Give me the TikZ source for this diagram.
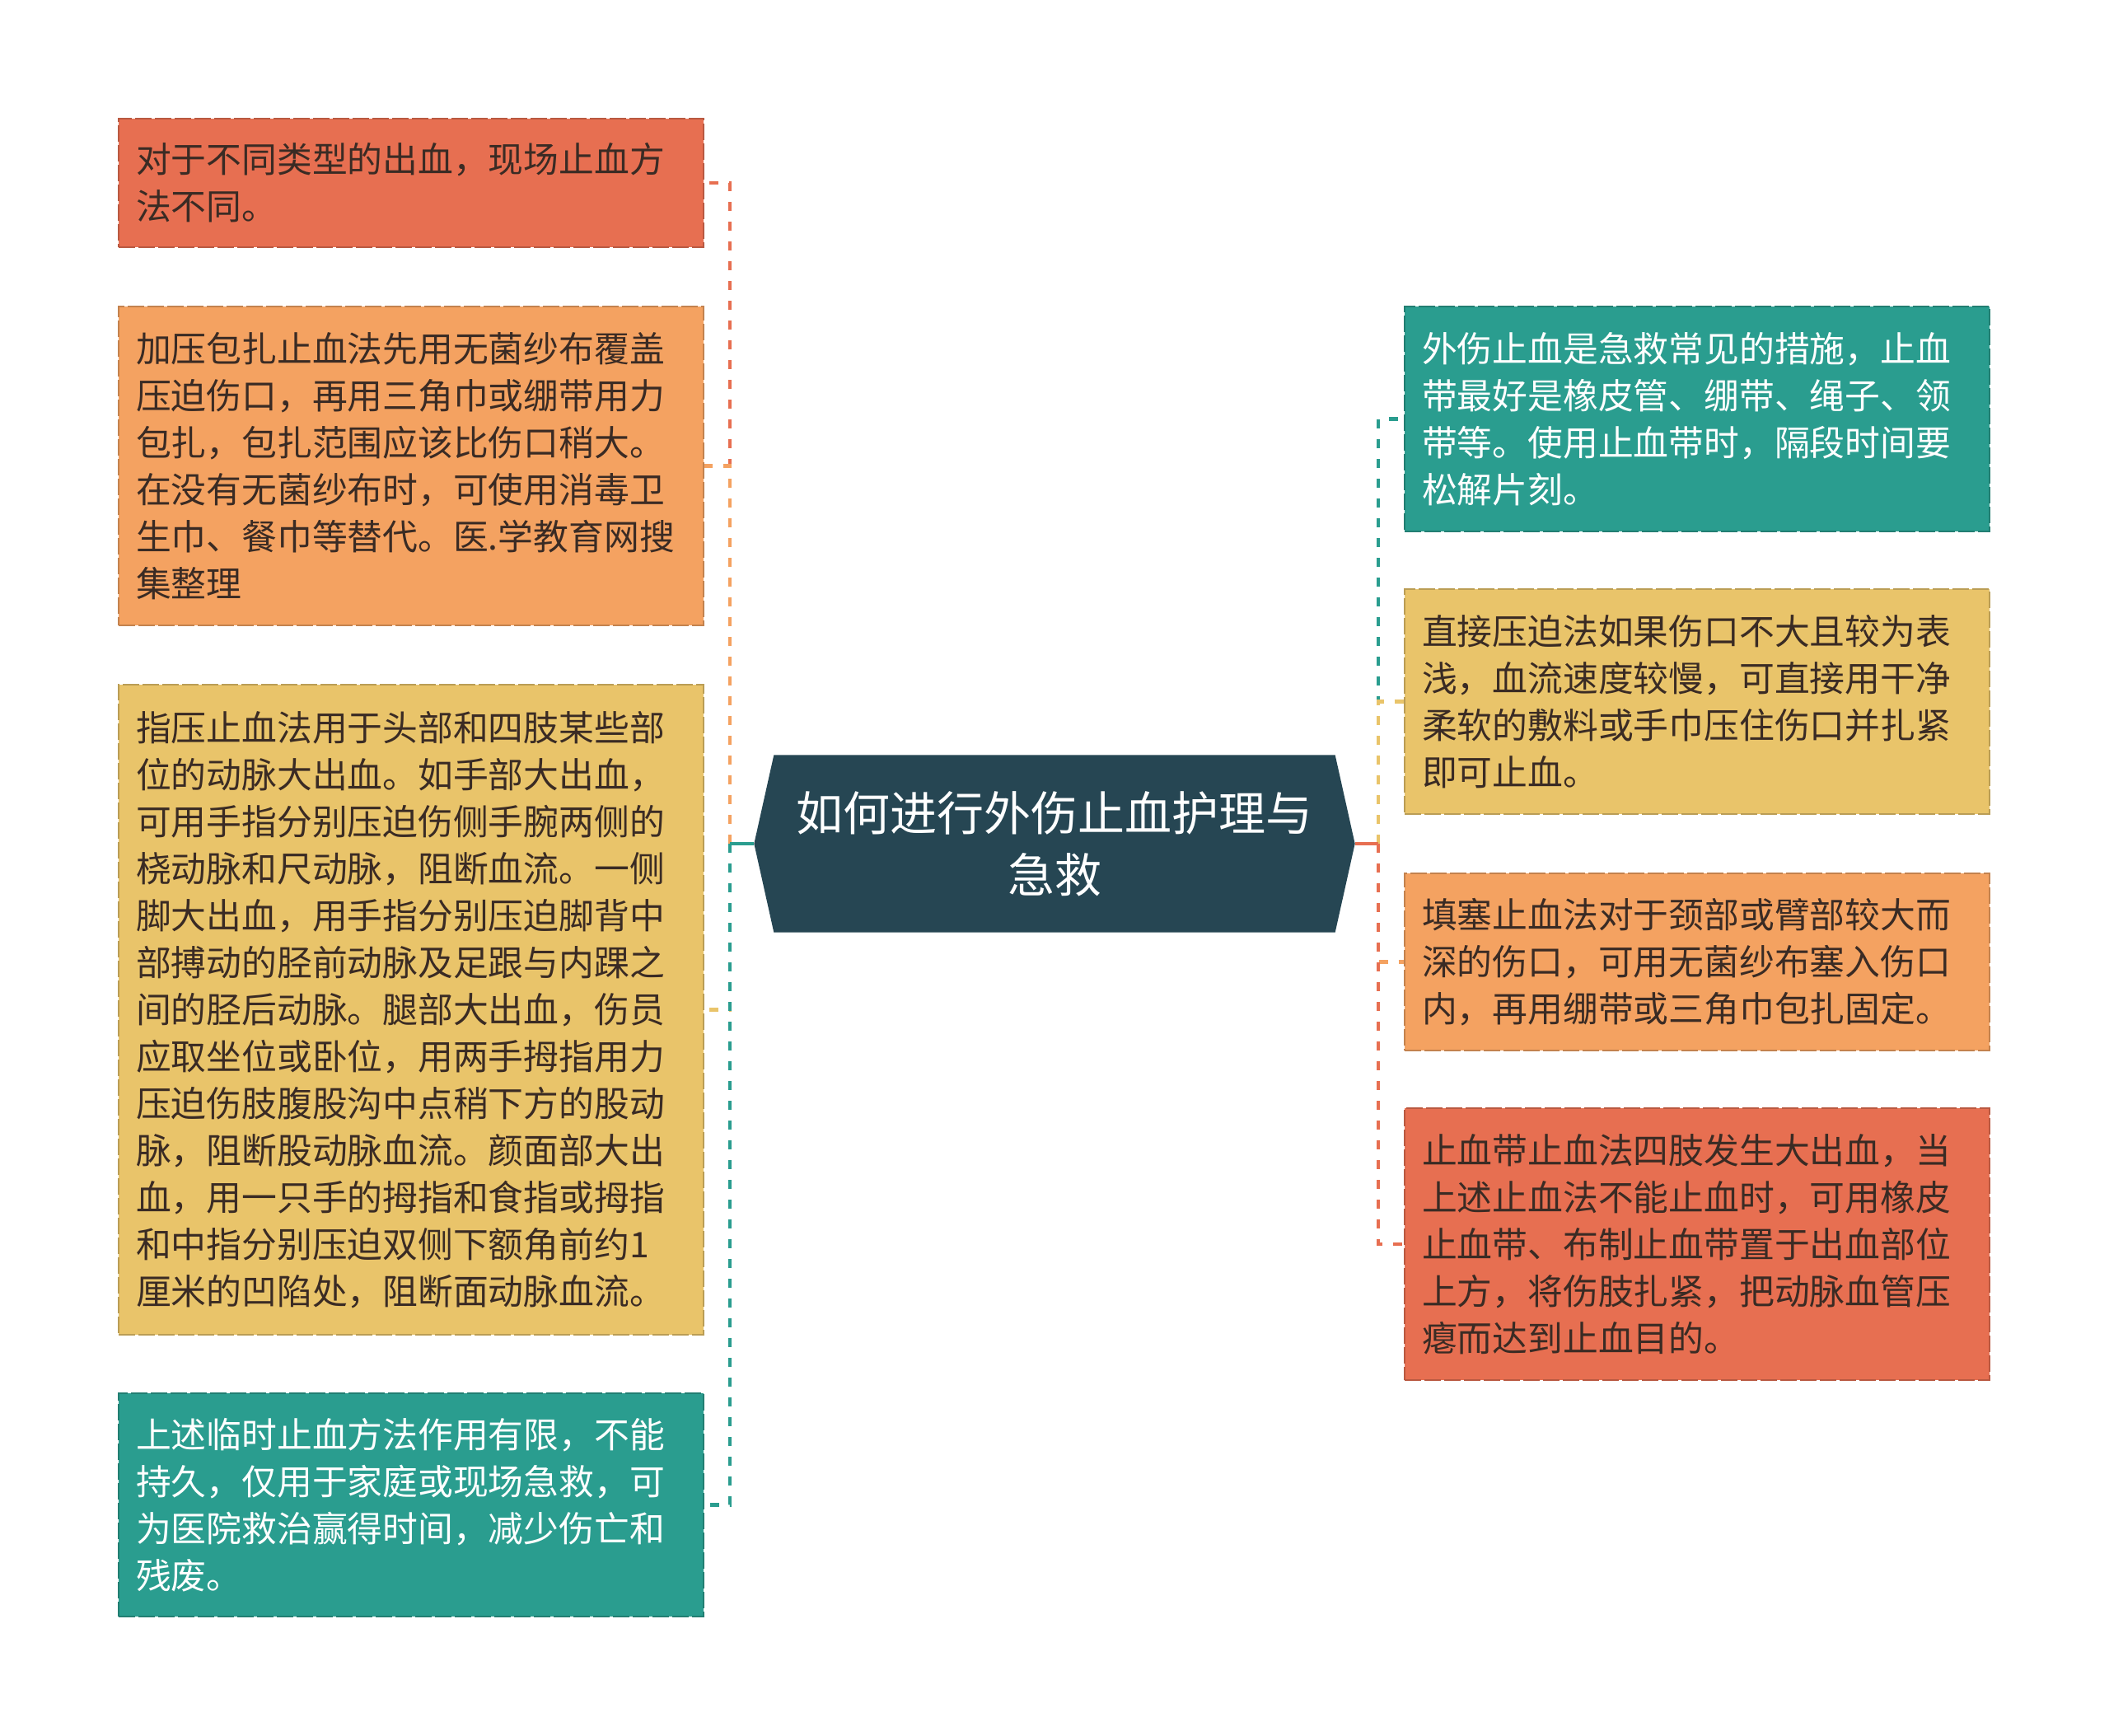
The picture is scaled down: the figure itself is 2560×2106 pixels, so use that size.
\documentclass[tikz,border=0pt]{standalone}
\usepackage{fontspec}
\newfontfamily\cjk{Noto Sans CJK SC}
\usetikzlibrary{backgrounds}
\definecolor{cRed}{HTML}{E76F51}
\definecolor{cOrange}{HTML}{F4A261}
\definecolor{cYellow}{HTML}{E9C46A}
\definecolor{cTeal}{HTML}{2A9D8F}
\definecolor{cDark}{HTML}{264653}
\definecolor{cText}{HTML}{3A2B24}
\begin{document}
\begin{tikzpicture}[x=0.3pt,y=-0.3pt]
			\tikzset{kasten/.style={rectangle, text width=200.4pt, inner sep=6.3pt, align=left, font=\cjk\fontsize{12.84pt}{17.1pt}\selectfont, line width=0.6pt, dash pattern=on 6pt off 1.2pt},
				linie/.style={line width=1.45pt, dash pattern=on 3.3pt off 3.9pt},
				stummel/.style={line width=1.45pt}}
			\useasboundingbox (0,0) rectangle (2560,2106);

			% Root
			\node[text=white, align=center, font=\cjk\fontsize{17.1pt}{22.5pt}\selectfont, minimum width=204pt, minimum height=64.2pt, inner sep=0pt] at (1280,1024) (root) {如何进行外伤止血护理与\\急救};
			\coordinate (rootl) at ([xshift=-7.2pt]root.west);
			\coordinate (rootr) at ([xshift=7.2pt]root.east);
			\begin{scope}[on background layer]
				\fill[cDark] (root.north west) -- (root.north east) -- (rootr) -- (root.south east) -- (root.south west) -- (rootl) -- cycle;
			\end{scope}
			\coordinate (gl) at (886,1024);
			\coordinate (gr) at (1673,1024);

			% Left boxes
			\node[kasten, fill=cRed, draw=cRed!80!black, text=cText, minimum height=46.8pt] at (499,222) (l1) {对于不同类型的出血，现场止血方\\法不同。};
			\node[kasten, fill=cOrange, draw=cOrange!80!black, text=cText, minimum height=116.1pt] at (499,565.5) (l2) {加压包扎止血法先用无菌纱布覆盖\\压迫伤口，再用三角巾或绷带用力\\包扎，包扎范围应该比伤口稍大。\\在没有无菌纱布时，可使用消毒卫\\生巾、餐巾等替代。医.学教育网搜\\集整理};
			\node[kasten, fill=cYellow, draw=cYellow!80!black, text=cText, minimum height=236.7pt] at (499,1225.5) (l3) {指压止血法用于头部和四肢某些部\\位的动脉大出血。如手部大出血，\\可用手指分别压迫伤侧手腕两侧的\\桡动脉和尺动脉，阻断血流。一侧\\脚大出血，用手指分别压迫脚背中\\部搏动的胫前动脉及足跟与内踝之\\间的胫后动脉。腿部大出血，伤员\\应取坐位或卧位，用两手拇指用力\\压迫伤肢腹股沟中点稍下方的股动\\脉，阻断股动脉血流。颜面部大出\\血，用一只手的拇指和食指或拇指\\和中指分别压迫双侧下额角前约1\\厘米的凹陷处，阻断面动脉血流。};
			\node[kasten, fill=cTeal, draw=cTeal!80!black, text=white, minimum height=81.3pt] at (499,1826.5) (l4) {上述临时止血方法作用有限，不能\\持久，仅用于家庭或现场急救，可\\为医院救治赢得时间，减少伤亡和\\残废。};

			% Right boxes
			\node[kasten, fill=cTeal, draw=cTeal!80!black, text=white, minimum height=81.9pt] at (2060,508.5) (r1) {外伤止血是急救常见的措施，止血\\带最好是橡皮管、绷带、绳子、领\\带等。使用止血带时，隔段时间要\\松解片刻。};
			\node[kasten, fill=cYellow, draw=cYellow!80!black, text=cText, minimum height=81.9pt] at (2060,851.5) (r2) {直接压迫法如果伤口不大且较为表\\浅，血流速度较慢，可直接用干净\\柔软的敷料或手巾压住伤口并扎紧\\即可止血。};
			\node[kasten, fill=cOrange, draw=cOrange!80!black, text=cText, minimum height=64.5pt] at (2060,1167.5) (r3) {填塞止血法对于颈部或臂部较大而\\深的伤口，可用无菌纱布塞入伤口\\内，再用绷带或三角巾包扎固定。};
			\node[kasten, fill=cRed, draw=cRed!80!black, text=cText, minimum height=99pt] at (2060,1510) (r4) {止血带止血法四肢发生大出血，当\\上述止血法不能止血时，可用橡皮\\止血带、布制止血带置于出血部位\\上方，将伤肢扎紧，把动脉血管压\\瘪而达到止血目的。};

			% Left connectors
			\draw[linie, cRed] (gl) |- (l1.east);
			\draw[linie, cOrange] (gl) |- (l2.east);
			\draw[linie, cYellow] (gl) |- (l3.east);
			\draw[linie, cTeal] (gl) |- (l4.east);
			\draw[stummel, cTeal] (rootl) -- (gl);

			% Right connectors
			\draw[linie, cTeal] (gr) |- (r1.west);
			\draw[linie, cYellow] (gr) |- (r2.west);
			\draw[linie, cOrange] (gr) |- (r3.west);
			\draw[linie, cRed] (gr) |- (r4.west);
			\draw[stummel, cRed] (rootr) -- (gr);
\end{tikzpicture}
\end{document}
